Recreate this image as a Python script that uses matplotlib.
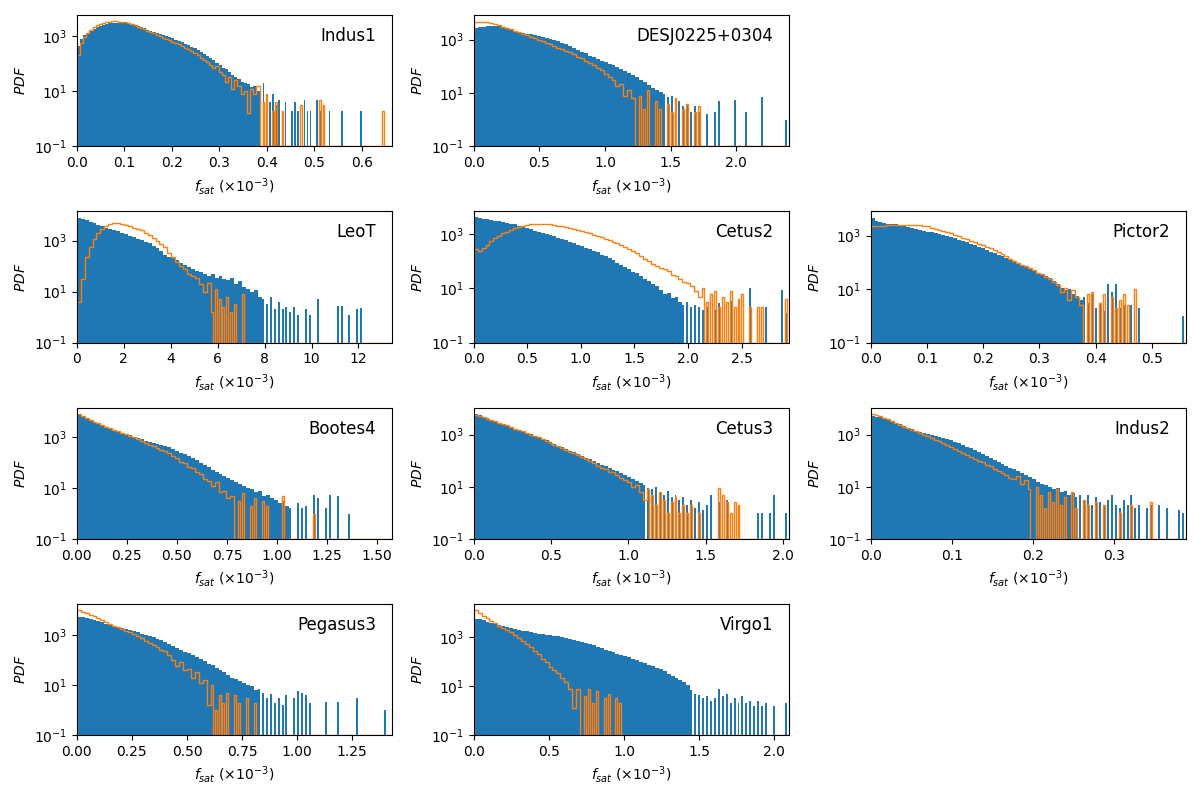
import numpy as np
import matplotlib
matplotlib.use("Agg")
import matplotlib.pyplot as plt
from matplotlib.ticker import NullLocator

# panel names, x range (x 1e-3) and log10 of the y-axis top
names = ["Indus1", "DESJ0225+0304", "LeoT", "Cetus2", "Pictor2",
         "Bootes4", "Cetus3", "Indus2", "Pegasus3", "Virgo1"]
x_max = [0.663, 2.40, 13.42, 2.94, 0.56, 1.573, 2.038, 0.388, 1.43, 2.095]
y_top = [3.76, 3.91, 4.14, 3.84, 3.90, 4.17, 4.03, 4.03, 4.23, 4.35]
y_floor = 1e-1

# x where each histogram stops being continuous and breaks up into single spikes
blue_solid_to = [0.385, 1.45, 7.9, 1.95, 0.375, 1.07, 1.1, 0.254, 0.82, 1.43]
orange_solid_to = [0.39, 1.25, 5.65, 2.12, 0.375, 0.79, 1.11, 0.195, 0.6, 0.7]

# histogram heights as log10(PDF) per equal-width bin over [0, x_max]; None = empty bin
indus1_blue = [
    2.65, 2.9, 3.03, 3.12, 3.2, 3.27, 3.33, 3.38, 3.42, 3.45,
    3.47, 3.48, 3.49, 3.49, 3.48, 3.47, 3.45, 3.42, 3.39, 3.36,
    3.32, 3.28, 3.24, 3.2, 3.16, 3.12, 3.08, 3.04, 3.0, 2.96,
    2.92, 2.87, 2.83, 2.78, 2.73, 2.68, 2.62, 2.56, 2.5, 2.44,
    2.36, 2.28, 2.2, 2.12, 2.02, 1.94, 1.85, 1.8, 1.7, 1.6,
    1.5, 1.45, 1.35, 1.3, 1.25, 1.15, 1.2, 1.0, 0.9, 1.3,
    0.8, 0.6, 0.9, 0.5, 0.7, 0.3, 0.6, None, 0.3, 0.6,
    0.3, None, 0.7, 0.3, 0.3, None, 0.7, 0.3, None, None,
    0.3, None, None, None, 0.3, None, None, None, None, None,
    0.3, None, None, None, None, None, None, None, None, None]
indus1_orange = [
    2.3, 2.75, 2.98, 3.12, 3.23, 3.32, 3.4, 3.45, 3.49, 3.52,
    3.53, 3.54, 3.54, 3.53, 3.52, 3.5, 3.47, 3.43, 3.39, 3.35,
    3.3, 3.25, 3.2, 3.15, 3.1, 3.05, 3.0, 2.95, 2.9, 2.85,
    2.8, 2.75, 2.7, 2.64, 2.58, 2.52, 2.45, 2.38, 2.3, 2.22,
    2.15, 2.05, 1.95, 1.85, 1.9, 1.7, 1.6, 1.35, 1.5, 1.1,
    1.4, 1.2, 0.9, 1.0, 0.2, 1.1, 0.9, 1.2, None, 0.6,
    0.9, None, 0.3, 0.6, None, 0.3, None, None, None, None,
    None, 0.5, None, None, None, None, None, 0.7, 0.5, None,
    None, None, None, None, None, None, None, None, None, None,
    None, None, None, None, None, None, None, 0.3, None, None]

desj_blue = [
    3.42, 3.45, 3.48, 3.5, 3.5, 3.5, 3.49, 3.45, 3.41, 3.36,
    3.32, 3.28, 3.25, 3.22, 3.19, 3.16, 3.12, 3.09, 3.05, 3.02,
    2.98, 2.93, 2.87, 2.82, 2.76, 2.68, 2.62, 2.55, 2.48, 2.4,
    2.34, 2.27, 2.2, 2.15, 2.1, 2.03, 1.97, 1.9, 1.82, 1.75,
    1.68, 1.58, 1.5, 1.4, 1.3, 1.2, 1.1, 1.05, 0.95, 0.85,
    0.9, 0.6, 0.7, 0.5, 0.6, 0.3, 0.5, 0.3, None, 0.2,
    None, 0.3, 0.7, None, None, None, 0.75, None, None, 0.3,
    None, None, None, 0.85, None, None, None, None, None, 0.0]
desj_orange = [
    3.66, 3.67, 3.66, 3.64, 3.61, 3.57, 3.53, 3.48, 3.43, 3.38,
    3.33, 3.28, 3.22, 3.16, 3.1, 3.04, 2.98, 2.93, 2.87, 2.82,
    2.76, 2.7, 2.64, 2.58, 2.52, 2.45, 2.36, 2.3, 2.2, 2.12,
    2.03, 1.95, 1.87, 1.7, 1.6, 1.5, 1.25, 1.35, 0.9, 1.1,
    0.8, None, 0.9, 0.4, 1.1, None, 0.7, 0.4, None, 0.6,
    0.3, 0.8, None, 0.4, 0.6, None, 0.3, 0.5, None, None,
    None, None, None, None, None, None, None, None, None, None,
    None, None, None, None, None, None, None, None, None, None]

leot_blue = [
    3.9, 3.85, 3.79, 3.73, 3.67, 3.61, 3.56, 3.5, 3.46, 3.41,
    3.36, 3.3, 3.24, 3.18, 3.13, 3.08, 3.02, 2.96, 2.9, 2.78,
    2.7, 2.6, 2.45, 2.35, 2.3, 2.22, 2.12, 2.05, 1.95, 1.88,
    1.8, 1.75, 1.68, 1.62, 1.7, 1.55, 1.6, 1.5, 1.45, 1.52,
    1.3, 1.4, 1.2, 1.1, 1.0, 1.05, 0.8, 0.7, 0.5, 0.8,
    0.3, 0.6, 0.3, 0.4, 0.2, 0.4, 0.1, None, 0.3, 0.1,
    None, 0.7, None, None, None, None, 0.45, 0.45, None, 0.1,
    None, 0.3, 0.35, None, None, None, None, None, None, None]
leot_orange = [
    0.6, 1.5, 2.35, 2.75, 3.05, 3.28, 3.45, 3.56, 3.63, 3.67,
    3.67, 3.64, 3.6, 3.56, 3.51, 3.46, 3.4, 3.3, 3.22, 3.12,
    3.0, 2.88, 2.74, 2.5, 2.35, 2.15, 2.0, 1.9, 1.7, 1.6,
    1.55, 1.3, 1.0, 1.35, 0.2, 1.1, 0.7, 0.4, 0.8, 0.2,
    0.5, None, 0.9, None, None, None, None, None, None, None,
    None, None, None, None, None, None, None, None, None, None,
    None, None, None, None, None, None, None, None, None, None,
    None, None, None, None, None, None, None, None, None, None]

cetus2_blue = [
    3.63, 3.6, 3.57, 3.55, 3.53, 3.5, 3.47, 3.44, 3.42, 3.39,
    3.36, 3.32, 3.27, 3.22, 3.18, 3.13, 3.09, 3.05, 3.0, 2.96,
    2.92, 2.87, 2.82, 2.78, 2.73, 2.68, 2.62, 2.56, 2.5, 2.45,
    2.4, 2.33, 2.25, 2.2, 2.12, 2.05, 1.95, 1.88, 1.8, 1.72,
    1.62, 1.58, 1.45, 1.35, 1.28, 1.15, 1.08, 0.95, 0.8, 0.85,
    0.65, 0.7, 0.5, 0.4, 0.5, 0.3, 0.4, 0.3, 0.2, 0.3,
    None, 0.2, 0.45, None, None, 0.55, None, 0.1, None, None,
    1.0, None, None, None, 0.3, None, None, None, 0.93, 0.1]
cetus2_orange = [
    2.45, 2.38, 2.5, 2.62, 2.74, 2.85, 2.95, 3.04, 3.1, 3.17,
    3.23, 3.27, 3.31, 3.34, 3.36, 3.38, 3.39, 3.39, 3.38, 3.37,
    3.35, 3.32, 3.29, 3.26, 3.22, 3.19, 3.16, 3.13, 3.08, 3.03,
    2.99, 2.95, 2.9, 2.84, 2.78, 2.73, 2.66, 2.6, 2.52, 2.45,
    2.37, 2.3, 2.2, 2.1, 2.02, 1.92, 1.84, 1.76, 1.7, 1.65,
    1.5, 1.45, 1.35, 1.25, 1.2, 1.1, 0.9, 0.7, 1.0, 0.5,
    0.8, 0.9, 0.3, 0.7, 0.5, 0.9, 0.3, 0.6, 0.8, None,
    0.3, None, 0.3, 0.3, None, None, None, None, None, 0.6]

pictor2_blue = [
    3.65, 3.55, 3.49, 3.46, 3.44, 3.43, 3.42, 3.4, 3.37, 3.33,
    3.29, 3.25, 3.21, 3.18, 3.15, 3.13, 3.1, 3.07, 3.03, 2.98,
    2.94, 2.9, 2.85, 2.8, 2.75, 2.7, 2.64, 2.58, 2.52, 2.46,
    2.4, 2.34, 2.28, 2.22, 2.16, 2.1, 2.04, 1.97, 1.9, 1.83,
    1.76, 1.7, 1.62, 1.55, 1.48, 1.4, 1.3, 1.2, 1.05, 0.95,
    1.0, 0.8, 0.75, 0.6, 0.7, 0.5, 0.8, 0.3, 0.5, 0.2,
    1.2, 0.9, 1.2, 0.3, 0.4, None, 0.4, None, 0.3, None,
    None, None, None, None, None, None, None, None, None, 0.0]
pictor2_orange = [
    3.36, 3.36, 3.37, 3.37, 3.38, 3.38, 3.39, 3.39, 3.4, 3.4,
    3.4, 3.4, 3.38, 3.36, 3.34, 3.3, 3.26, 3.22, 3.18, 3.13,
    3.08, 3.02, 2.97, 2.92, 2.87, 2.81, 2.76, 2.7, 2.65, 2.58,
    2.52, 2.45, 2.38, 2.3, 2.22, 2.12, 2.06, 1.98, 1.9, 1.85,
    1.78, 1.72, 1.62, 1.55, 1.45, 1.38, 1.25, 1.15, 0.9, 1.05,
    0.6, 0.95, 0.7, 0.4, None, 0.8, 0.9, None, 0.5, 0.8,
    None, 0.7, 0.3, 0.6, 0.8, 0.4, None, 1.0, None, None,
    None, None, None, None, None, None, None, None, None, None]

bootes4_blue = [
    3.88, 3.8, 3.74, 3.68, 3.61, 3.55, 3.49, 3.43, 3.37, 3.31,
    3.25, 3.19, 3.13, 3.08, 3.02, 2.97, 2.92, 2.87, 2.83, 2.8,
    2.76, 2.72, 2.67, 2.62, 2.55, 2.48, 2.4, 2.33, 2.25, 2.18,
    2.1, 2.0, 1.9, 1.82, 1.72, 1.62, 1.55, 1.48, 1.4, 1.32,
    1.25, 1.15, 1.1, 1.0, 0.95, 0.85, 0.9, 0.7, 0.75, 0.6,
    0.55, 0.4, 0.5, 0.3, 0.2, None, 0.4, 0.2, 0.3, None,
    0.72, 0.6, None, 0.2, 0.75, None, 0.7, None, None, 0.0,
    None, None, None, None, None, None, None, None, None, None]
bootes4_orange = [
    3.93, 3.84, 3.77, 3.7, 3.62, 3.55, 3.48, 3.42, 3.36, 3.3,
    3.24, 3.18, 3.12, 3.06, 3.0, 2.93, 2.86, 2.79, 2.72, 2.66,
    2.58, 2.5, 2.45, 2.38, 2.28, 2.2, 2.05, 2.0, 1.85, 1.8,
    1.62, 1.55, 1.35, 1.3, 1.1, 1.25, 0.85, 0.9, 0.6, 0.7,
    None, 0.5, 0.8, None, 0.3, 0.6, None, 0.5, 0.3, None,
    None, None, 0.7, None, None, None, None, None, None, None,
    0.0, None, None, None, None, None, None, None, None, None,
    None, None, None, None, None, None, None, None, None, None]

cetus3_blue = [
    3.8, 3.74, 3.68, 3.62, 3.56, 3.5, 3.45, 3.39, 3.34, 3.29,
    3.23, 3.17, 3.12, 3.07, 3.01, 2.95, 2.9, 2.84, 2.78, 2.72,
    2.65, 2.58, 2.52, 2.45, 2.38, 2.32, 2.25, 2.18, 2.11, 2.05,
    1.98, 1.92, 1.85, 1.79, 1.72, 1.66, 1.6, 1.52, 1.45, 1.38,
    1.3, 1.22, 1.15, 1.05, 0.95, 0.9, 1.0, 0.8, 0.7, 0.85,
    0.6, 0.7, 0.5, 0.6, 0.3, 0.5, 0.2, 0.4, 0.1, 0.3,
    0.7, None, 0.4, None, 0.5, None, None, 0.2, None, None,
    None, None, 0.0, 0.0, None, 0.0, 0.68, None, None, 0.0]
cetus3_orange = [
    3.76, 3.71, 3.66, 3.61, 3.56, 3.51, 3.46, 3.4, 3.35, 3.29,
    3.23, 3.17, 3.12, 3.06, 3.0, 2.95, 2.89, 2.83, 2.76, 2.69,
    2.62, 2.55, 2.48, 2.41, 2.34, 2.28, 2.2, 2.13, 2.05, 1.98,
    1.9, 1.8, 1.72, 1.68, 1.58, 1.55, 1.45, 1.35, 1.25, 1.2,
    1.0, 1.05, 0.8, 0.5, 0.9, 0.7, 0.3, 0.8, 0.5, 0.0,
    0.4, 0.6, 0.0, 0.3, 0.0, 0.3, None, 0.0, None, None,
    None, None, 0.95, 0.7, 0.4, 0.0, 0.4, 0.3, None, None,
    None, None, None, None, None, None, None, None, None, None]

indus2_blue = [
    3.71, 3.69, 3.66, 3.62, 3.57, 3.51, 3.45, 3.39, 3.32, 3.26,
    3.2, 3.15, 3.11, 3.07, 3.03, 2.99, 2.95, 2.92, 2.88, 2.83,
    2.78, 2.72, 2.66, 2.6, 2.54, 2.47, 2.4, 2.32, 2.25, 2.18,
    2.1, 2.02, 1.95, 1.87, 1.8, 1.73, 1.67, 1.6, 1.52, 1.45,
    1.38, 1.3, 1.2, 1.1, 1.05, 1.0, 0.9, 0.95, 0.8, 0.85,
    0.7, 0.75, 0.6, 0.7, 0.5, 0.7, 0.3, 0.6, 0.4, 0.3,
    0.5, 0.7, 0.3, 0.2, 0.5, 0.3, 0.7, 0.2, 0.3, None,
    0.2, 0.3, None, 0.3, None, 0.2, None, None, 0.1, 0.0]
indus2_orange = [
    3.8, 3.76, 3.71, 3.65, 3.59, 3.52, 3.45, 3.38, 3.31, 3.25,
    3.18, 3.12, 3.06, 3.0, 2.94, 2.87, 2.81, 2.75, 2.69, 2.61,
    2.52, 2.44, 2.36, 2.3, 2.22, 2.16, 2.08, 2.0, 1.94, 1.85,
    1.8, 1.7, 1.6, 1.52, 1.45, 1.35, 1.3, 1.4, 1.1, 1.25,
    0.9, None, 1.0, 0.7, 0.2, 0.8, 0.4, 0.9, 0.3, 0.6,
    None, 0.8, 0.2, None, 0.5, 0.3, None, 0.4, None, 0.3,
    None, None, None, 0.0, None, None, 0.3, None, None, None,
    None, 0.4, None, None, None, None, None, None, None, None]

pegasus3_blue = [
    3.73, 3.7, 3.66, 3.62, 3.58, 3.54, 3.5, 3.45, 3.4, 3.35,
    3.31, 3.27, 3.23, 3.19, 3.14, 3.1, 3.05, 3.0, 2.95, 2.9,
    2.85, 2.79, 2.72, 2.65, 2.55, 2.47, 2.4, 2.32, 2.26, 2.2,
    2.12, 2.05, 1.95, 1.85, 1.78, 1.68, 1.6, 1.5, 1.4, 1.3,
    1.25, 1.15, 1.1, 1.0, 0.95, 0.8, 0.85, 0.7, 0.5, 0.65,
    0.3, 0.5, 0.2, 0.6, None, 0.5, 0.75, 0.7, 0.6, 0.3,
    None, None, None, 0.33, None, None, 0.33, None, None, None,
    None, 0.47, None, None, None, None, None, None, 0.0, None]
pegasus3_orange = [
    4.0, 3.93, 3.87, 3.8, 3.74, 3.67, 3.6, 3.52, 3.44, 3.37,
    3.3, 3.22, 3.16, 3.1, 3.02, 2.95, 2.87, 2.77, 2.68, 2.6,
    2.5, 2.4, 2.35, 2.2, 2.0, 1.75, 1.9, 1.6, 1.65, 1.3,
    1.5, 1.1, 1.2, 0.2, 1.0, 0.0, 0.6, 0.3, 0.7, None,
    0.6, 0.3, None, 0.5, None, 0.3, None, None, None, None,
    None, None, None, None, None, None, None, None, None, None,
    None, None, None, None, None, None, None, None, None, None,
    None, None, None, None, None, None, None, None, None, None]

virgo1_blue = [
    3.75, 3.72, 3.68, 3.63, 3.58, 3.53, 3.49, 3.45, 3.41, 3.37,
    3.33, 3.3, 3.26, 3.23, 3.19, 3.16, 3.13, 3.11, 3.1, 3.08,
    3.05, 3.03, 3.0, 2.97, 2.93, 2.88, 2.83, 2.79, 2.74, 2.7,
    2.66, 2.61, 2.55, 2.48, 2.43, 2.38, 2.33, 2.29, 2.25, 2.19,
    2.12, 2.06, 2.0, 1.95, 1.88, 1.82, 1.75, 1.68, 1.6, 1.5,
    1.42, 1.35, 1.25, 1.15, 1.05, 0.85, 0.7, 0.65, 0.5, 0.6,
    0.4, 0.5, 0.9, 0.6, 0.7, 0.3, 0.5, 0.3, 0.6, 0.3,
    0.4, 0.2, 0.4, 0.2, 0.3, None, 0.2, None, None, 0.3]
virgo1_orange = [
    4.1, 3.98, 3.88, 3.76, 3.66, 3.56, 3.45, 3.38, 3.3, 3.2,
    3.08, 2.97, 2.85, 2.72, 2.6, 2.42, 2.3, 2.1, 2.0, 1.8,
    1.65, 1.55, 1.35, 1.15, 0.9, 0.1, 0.9, None, 0.6, 0.9,
    0.3, 0.8, None, 0.5, 0.7, None, 0.5, 0.3, None, None,
    None, None, None, None, None, None, None, None, None, None,
    None, None, None, None, None, None, None, None, None, None,
    None, None, None, None, None, None, None, None, None, None,
    None, None, None, None, None, None, None, None, None, None]

blue_sets = [indus1_blue, desj_blue, leot_blue, cetus2_blue, pictor2_blue,
             bootes4_blue, cetus3_blue, indus2_blue, pegasus3_blue, virgo1_blue]
orange_sets = [indus1_orange, desj_orange, leot_orange, cetus2_orange, pictor2_orange,
               bootes4_orange, cetus3_orange, indus2_orange, pegasus3_orange, virgo1_orange]
slots = [(0, 0), (0, 1), (1, 0), (1, 1), (1, 2),
         (2, 0), (2, 1), (2, 2), (3, 0), (3, 1)]


def split_bins(logs, xmax, solid_to, empty):
    #each bin is halved; past solid_to only the first half keeps the value (thin spikes)
    n = len(logs)
    width = xmax / n
    edges = np.linspace(0, xmax, 2 * n + 1)
    vals = []
    for i, v in enumerate(logs):
        h = empty if v is None else 10.0 ** v
        if (i + 0.5) * width < solid_to:
            vals += [h, h]
        else:
            vals += [h, empty]
    mids = 0.5 * (edges[1:] + edges[:-1])
    return mids, edges, np.array(vals)


def draw_panel(ax, k):
    xmax = x_max[k]
    mids, edges, w = split_bins(blue_sets[k], xmax, blue_solid_to[k], 0.0)
    ax.hist(mids, bins=edges, weights=w, color="C0", log=True)

    mids, edges, w = split_bins(orange_sets[k], xmax, orange_solid_to[k], y_floor)
    ax.hist(mids, bins=edges, weights=w, histtype="step", color="C1", log=True)

    ax.set_xlim(0, xmax)
    ax.set_ylim(y_floor, 10 ** y_top[k])
    ax.set_yticks([1e-1, 1e1, 1e3])
    ax.yaxis.set_minor_locator(NullLocator())
    ax.set_xlabel(r"$f_{sat}$ ($\times10^{-3}$)")
    ax.set_ylabel(r"$PDF$")
    ax.text(0.95, 0.84, names[k], transform=ax.transAxes, ha="right",
            va="center", fontsize=12)


def main():
    fig, axes = plt.subplots(4, 3, figsize=(12, 8), dpi=100)
    fig.subplots_adjust(left=0.064, right=0.988, top=0.981, bottom=0.081,
                        wspace=0.26, hspace=0.496)
    axes[0, 2].axis("off")
    axes[3, 2].axis("off")

    for k, (r, c) in enumerate(slots):
        draw_panel(axes[r, c], k)

    fig.savefig("out.png", dpi=100)


if __name__ == "__main__":
    main()
